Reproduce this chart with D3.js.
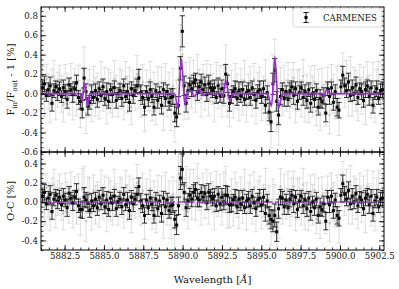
<!DOCTYPE html>
<html><head><meta charset="utf-8">
<script src="https://cdn.jsdelivr.net/npm/d3@7"></script>
<style>body{margin:0;background:#fff} svg{display:block} text{font-family:"DejaVu Serif",serif;fill:#111}</style>
</head><body><svg id="c" width="399" height="289"></svg>
<script>
const wavelength = [
5881.10,5881.22,5881.34,5881.46,5881.58,5881.70,5881.82,5881.94,5882.06,5882.18,
5882.30,5882.42,5882.54,5882.66,5882.78,5882.90,5883.02,5883.14,5883.26,5883.38,
5883.50,5883.62,5883.74,5883.86,5883.98,5884.10,5884.22,5884.34,5884.46,5884.58,
5884.70,5884.82,5884.94,5885.06,5885.18,5885.30,5885.42,5885.54,5885.66,5885.78,
5885.90,5886.02,5886.14,5886.26,5886.38,5886.50,5886.62,5886.74,5886.86,5886.98,
5887.10,5887.22,5887.34,5887.46,5887.58,5887.70,5887.82,5887.94,5888.06,5888.18,
5888.30,5888.42,5888.54,5888.66,5888.78,5888.90,5889.02,5889.14,5889.26,5889.38,
5889.50,5889.62,5889.74,5889.86,5889.98,5890.10,5890.22,5890.34,5890.46,5890.58,
5890.70,5890.82,5890.94,5891.06,5891.18,5891.30,5891.42,5891.54,5891.66,5891.78,
5891.90,5892.02,5892.14,5892.26,5892.38,5892.50,5892.62,5892.74,5892.86,5892.98,
5893.10,5893.22,5893.34,5893.46,5893.58,5893.70,5893.82,5893.94,5894.06,5894.18,
5894.30,5894.42,5894.54,5894.66,5894.78,5894.90,5895.02,5895.14,5895.26,5895.38,
5895.50,5895.62,5895.74,5895.86,5895.98,5896.10,5896.22,5896.34,5896.46,5896.58,
5896.70,5896.82,5896.94,5897.06,5897.18,5897.30,5897.42,5897.54,5897.66,5897.78,
5897.90,5898.02,5898.14,5898.26,5898.38,5898.50,5898.62,5898.74,5898.86,5898.98,
5899.10,5899.22,5899.34,5899.46,5899.58,5899.70,5899.82,5899.94,5900.06,5900.18,
5900.30,5900.42,5900.54,5900.66,5900.78,5900.90,5901.02,5901.14,5901.26,5901.38,
5901.50,5901.62,5901.74,5901.86,5901.98,5902.10,5902.22,5902.34,5902.46,5902.58,
5902.70];

// binned CARMENES transmission (black), %
const binnedFlux = [
0.06,0.10,-0.02,0.04,0.08,-0.10,0.03,0.07,0.01,0.05,
-0.03,0.06,0.02,-0.06,0.09,0.04,-0.01,0.05,0.11,-0.04,
-0.08,-0.16,0.16,0.02,-0.13,-0.09,0.01,-0.04,0.03,-0.06,
0.05,-0.02,0.07,-0.05,0.02,-0.08,0.04,-0.01,0.06,-0.07,
0.00,0.03,-0.05,0.08,-0.03,0.02,-0.09,0.05,-0.02,0.03,
0.08,0.16,0.01,-0.04,-0.14,0.02,-0.06,0.04,-0.02,-0.14,
0.03,-0.07,0.01,-0.12,0.04,-0.05,0.02,-0.09,-0.04,-0.03,
-0.20,-0.24,-0.12,0.26,0.64,0.08,-0.10,0.03,0.09,0.05,
0.11,0.14,0.02,0.07,0.12,0.04,0.09,-0.01,0.10,0.06,
0.03,0.06,-0.04,0.08,-0.02,0.05,-0.02,0.20,0.10,-0.10,
-0.03,0.02,0.05,-0.05,0.03,-0.02,0.04,-0.06,0.01,0.03,
-0.04,0.06,-0.01,-0.07,0.02,0.04,-0.03,0.05,-0.12,0.01,
-0.19,-0.29,0.10,0.24,-0.08,-0.22,-0.03,0.04,-0.05,0.02,
-0.06,0.03,0.07,-0.02,0.05,-0.08,0.01,0.06,-0.04,0.02,
-0.07,0.04,-0.10,0.00,-0.06,0.03,-0.14,-0.05,-0.08,-0.02,
-0.20,0.05,-0.03,0.06,-0.09,0.02,-0.14,-0.17,0.07,0.19,
0.08,0.03,0.12,-0.02,0.06,0.00,0.09,-0.04,0.05,0.02,
-0.07,0.04,0.08,-0.03,0.06,-0.12,0.01,0.05,-0.05,0.03,
0.04];

const binnedErr = [
.07,.08,.06,.07,.09,.08,.07,.06,.08,.07,
.06,.08,.07,.09,.07,.06,.08,.07,.08,.07,
.08,.09,.10,.08,.09,.07,.08,.06,.07,.08,
.07,.06,.08,.07,.09,.07,.06,.08,.07,.08,
.06,.07,.08,.07,.06,.08,.09,.07,.08,.06,
.07,.09,.08,.07,.08,.06,.07,.08,.07,.08,
.07,.08,.06,.09,.07,.08,.07,.08,.09,.08,
.09,.10,.09,.12,.16,.10,.09,.08,.07,.08,
.08,.07,.09,.07,.08,.06,.08,.07,.09,.07,
.07,.08,.06,.08,.07,.09,.08,.10,.09,.08,
.07,.06,.08,.07,.09,.07,.08,.06,.07,.08,
.08,.07,.06,.08,.07,.09,.07,.08,.08,.07,
.09,.10,.11,.12,.10,.10,.08,.07,.08,.06,
.07,.08,.06,.09,.07,.08,.07,.06,.08,.07,
.08,.07,.09,.06,.08,.07,.08,.09,.07,.08,
.09,.07,.08,.06,.08,.07,.09,.08,.07,.09,
.08,.07,.09,.06,.08,.07,.08,.07,.06,.08,
.07,.08,.06,.09,.07,.08,.07,.08,.06,.07,
.08];

// binned residuals O-C (black), %
const binnedResid = [
0.06,0.10,-0.02,0.04,0.08,-0.10,0.03,0.07,0.01,0.05,
-0.03,0.06,0.02,-0.06,0.09,0.04,-0.01,0.05,0.11,-0.04,
-0.08,-0.08,0.05,0.02,-0.01,-0.09,0.01,-0.04,0.03,-0.06,
0.05,-0.02,0.07,-0.05,0.02,-0.08,0.04,-0.01,0.06,-0.07,
0.00,0.03,-0.05,0.08,-0.03,0.02,-0.09,0.05,-0.02,0.03,
0.08,0.16,0.01,-0.04,-0.14,0.02,-0.06,0.04,-0.02,-0.14,
0.03,-0.07,0.01,-0.12,0.04,-0.05,0.02,-0.09,-0.04,-0.03,
-0.18,-0.24,-0.04,0.25,0.34,0.10,-0.06,0.01,0.07,0.03,
0.10,0.13,0.04,0.02,0.10,0.05,0.09,-0.01,0.10,0.06,
0.03,0.06,-0.04,0.08,-0.02,0.05,0.00,0.07,0.07,-0.03,
-0.03,0.02,0.05,-0.05,0.03,-0.02,0.04,-0.06,0.01,0.03,
-0.04,0.06,-0.01,-0.07,0.02,0.04,-0.03,0.05,-0.12,0.01,
-0.14,-0.18,-0.20,-0.14,-0.31,-0.07,0.05,0.04,-0.05,0.02,
-0.06,0.03,0.07,-0.02,0.05,-0.08,0.01,0.06,-0.04,0.02,
-0.07,0.04,-0.10,0.00,-0.06,0.03,-0.14,-0.05,-0.08,-0.02,
-0.20,0.05,-0.03,0.06,-0.09,0.02,-0.14,-0.17,0.07,0.19,
0.08,0.03,0.12,-0.02,0.06,0.00,0.09,-0.04,0.05,0.02,
-0.07,0.04,0.08,-0.03,0.06,-0.12,0.01,0.05,-0.05,0.03,
0.04];

// unbinned data (light gray), %
const rawFlux = [
0.12,-0.05,0.15,0.02,-0.10,0.08,0.18,-0.06,0.04,0.14,
0.00,-0.12,0.10,0.05,-0.04,0.16,-0.08,0.09,-0.02,0.13,
-0.15,0.05,0.25,-0.20,-0.05,0.08,-0.11,0.12,-0.03,0.06,
-0.09,0.14,-0.02,0.07,-0.13,0.10,0.01,-0.07,0.15,0.03,
-0.06,0.11,0.04,-0.10,0.17,-0.01,0.06,-0.14,0.09,0.00,
0.20,0.05,-0.08,0.12,-0.18,0.07,-0.03,0.14,-0.10,0.02,
-0.15,0.09,-0.04,0.06,-0.20,0.11,-0.07,0.03,-0.16,0.08,
-0.28,-0.10,0.15,0.45,0.40,-0.05,0.12,-0.08,0.18,0.02,
0.16,-0.03,0.20,0.08,-0.05,0.15,0.01,0.13,-0.06,0.11,
0.05,-0.09,0.14,0.00,0.10,-0.07,0.08,0.26,-0.04,-0.15,
0.07,-0.10,0.12,0.02,-0.08,0.10,-0.04,0.13,-0.12,0.05,
0.09,-0.06,0.15,-0.11,0.04,0.12,-0.09,0.01,0.14,-0.07,
-0.10,-0.32,0.15,0.30,-0.15,-0.30,0.08,-0.06,0.11,-0.02,
0.13,-0.08,0.05,0.16,-0.12,0.03,0.10,-0.05,0.18,-0.09,
0.02,-0.14,0.09,-0.03,0.12,-0.18,0.05,-0.20,0.07,-0.06,
-0.12,0.10,-0.22,0.14,0.00,-0.08,0.06,-0.24,0.12,0.22,
0.02,0.15,-0.05,0.18,-0.08,0.10,0.03,-0.10,0.14,-0.02,
0.09,-0.12,0.16,0.04,-0.06,0.11,-0.14,0.07,0.13,-0.04,
0.10];

const rawErr = [
.16,.19,.15,.18,.20,.17,.16,.21,.18,.15,
.19,.17,.20,.16,.18,.15,.19,.17,.21,.16,
.20,.22,.23,.21,.19,.17,.18,.16,.20,.15,
.17,.19,.16,.20,.18,.15,.21,.17,.19,.16,
.18,.15,.20,.17,.16,.19,.21,.18,.15,.17,
.19,.20,.16,.18,.21,.17,.15,.19,.18,.20,
.17,.19,.16,.21,.18,.20,.17,.19,.22,.18,
.22,.24,.23,.26,.25,.22,.20,.18,.19,.17,
.18,.16,.20,.17,.19,.15,.18,.21,.17,.19,
.16,.20,.18,.15,.19,.17,.21,.24,.20,.19,
.17,.15,.19,.18,.20,.16,.18,.21,.17,.15,
.19,.17,.16,.20,.18,.15,.19,.17,.21,.18,
.22,.24,.25,.26,.24,.23,.19,.17,.18,.16,
.19,.17,.20,.16,.18,.21,.15,.19,.17,.20,
.18,.16,.19,.21,.17,.15,.20,.18,.19,.16,
.21,.17,.19,.16,.20,.18,.22,.19,.17,.20,
.16,.19,.18,.20,.15,.17,.21,.18,.16,.19,
.18,.20,.17,.15,.19,.21,.16,.18,.20,.17,
.18];

const rawResid = [
0.12,-0.05,0.15,0.02,-0.10,0.08,0.18,-0.06,0.04,0.14,
0.00,-0.12,0.10,0.05,-0.04,0.16,-0.08,0.09,-0.02,0.13,
-0.15,0.13,0.14,-0.20,0.07,0.08,-0.11,0.12,-0.03,0.06,
-0.09,0.14,-0.02,0.07,-0.13,0.10,0.01,-0.07,0.15,0.03,
-0.06,0.11,0.04,-0.10,0.17,-0.01,0.06,-0.14,0.09,0.00,
0.20,0.05,-0.08,0.12,-0.18,0.07,-0.03,0.14,-0.10,0.02,
-0.15,0.09,-0.04,0.06,-0.20,0.11,-0.07,0.03,-0.16,0.08,
-0.28,-0.02,0.29,0.23,0.17,0.03,0.17,-0.10,0.15,-0.01,
0.16,-0.03,0.20,0.08,-0.05,0.15,0.01,0.13,-0.06,0.11,
0.05,-0.09,0.14,0.00,0.10,-0.07,0.10,0.13,-0.07,-0.08,
0.07,-0.10,0.12,0.02,-0.08,0.10,-0.04,0.13,-0.12,0.05,
0.09,-0.06,0.15,-0.11,0.04,0.12,-0.09,0.01,0.14,-0.07,
-0.05,-0.21,-0.01,-0.08,-0.27,-0.15,0.16,-0.06,0.11,-0.02,
0.13,-0.08,0.05,0.16,-0.12,0.03,0.10,-0.05,0.18,-0.09,
0.02,-0.14,0.09,-0.03,0.12,-0.18,0.05,-0.20,0.07,-0.06,
-0.12,0.10,-0.22,0.14,0.00,-0.08,0.06,-0.24,0.12,0.22,
0.02,0.15,-0.05,0.18,-0.08,0.10,0.03,-0.10,0.14,-0.02,
0.09,-0.12,0.16,0.04,-0.06,0.11,-0.14,0.07,0.13,-0.04,
0.10];

// best-fit model (purple)
const modelWave = [5881.0,5883.55,5883.62,5883.75,5883.95,5884.1,5889.5,5889.7,5889.92,5890.15,5890.3,5890.55,5890.75,5891.05,5891.3,5891.5,5892.4,5892.55,5892.75,5893.0,5893.2,5895.4,5895.65,5895.86,5896.1,5896.35,5898.9,5899.0,5899.15,5899.35,5902.8];
const modelFlux = [0,0,-0.08,0.12,-0.13,0,0,-0.15,0.36,-0.12,0.02,0.03,-0.03,0.05,-0.02,0,0,-0.04,0.14,-0.08,0,0,-0.13,0.38,-0.15,0,0,-0.03,0.04,0,0];
const zeroWave = [5881.0, 5902.8];
const zeroLine = [0, 0];

const xTicks = [5882.5,5885.0,5887.5,5890.0,5892.5,5895.0,5897.5,5900.0,5902.5];
const yTicksTop = [-0.6,-0.4,-0.2,0.0,0.2,0.4,0.6,0.8];
const yTicksBot = [-0.4,-0.2,0.0,0.2,0.4];
const legendLabel = "CARMENES";

const svg = d3.select("#c");
const L = 41, R = 384, T1 = 7, B1 = 152, B2 = 250;
const x = d3.scaleLinear().domain([5881.0, 5902.8]).range([L, R]);
const yTop = d3.scaleLinear().domain([-0.6, 0.89]).range([B1, T1]);
const yBot = d3.scaleLinear().domain([-0.5, 0.52]).range([B2, B1]);
const purple = "#9932CC";
const fmt = v => (Math.abs(v) < 1e-9 ? 0 : v).toFixed(1);

function panel(id, y, top, bottom, rawY, blkY, modelX, modelY, dashed) {
  const g = svg.append("g");
  g.append("clipPath").attr("id", id).append("rect")
    .attr("x", L).attr("y", top).attr("width", R - L).attr("height", bottom - top);
  const d = g.append("g").attr("clip-path", `url(#${id})`);
  // gray
  const gg = d.append("g");
  wavelength.forEach((w, i) => {
    const cx = x(w), y0 = y(rawY[i] - rawErr[i]), y1 = y(rawY[i] + rawErr[i]);
    gg.append("line").attr("x1", cx).attr("x2", cx).attr("y1", y0).attr("y2", y1)
      .attr("stroke", "#c4c4c4").attr("stroke-opacity", 0.7).attr("stroke-width", 0.8);
    [y0, y1].forEach(yy => gg.append("line").attr("x1", cx - 2.5).attr("x2", cx + 2.5)
      .attr("y1", yy).attr("y2", yy).attr("stroke", "#c4c4c4").attr("stroke-opacity", 0.7).attr("stroke-width", 0.8));
    gg.append("rect").attr("x", cx - 1.2).attr("y", y(rawY[i]) - 1.2).attr("width", 2.4).attr("height", 2.4)
      .attr("fill", "#a8a8a8").attr("fill-opacity", 0.55);
  });
  // black
  const bg = d.append("g");
  wavelength.forEach((w, i) => {
    const cx = x(w), y0 = y(blkY[i] - binnedErr[i]), y1 = y(blkY[i] + binnedErr[i]);
    bg.append("line").attr("x1", cx).attr("x2", cx).attr("y1", y0).attr("y2", y1)
      .attr("stroke", "#1a1a1a").attr("stroke-width", 0.9);
    [y0, y1].forEach(yy => bg.append("line").attr("x1", cx - 2.6).attr("x2", cx + 2.6)
      .attr("y1", yy).attr("y2", yy).attr("stroke", "#1a1a1a").attr("stroke-width", 0.9));
    bg.append("rect").attr("x", cx - 1.5).attr("y", y(blkY[i]) - 1.5).attr("width", 3).attr("height", 3)
      .attr("fill", "#000");
  });
  // model
  const line = d3.line().x((v, i) => x(modelX[i])).y(v => y(v)).curve(dashed ? d3.curveLinear : d3.curveMonotoneX);
  d.append("path").attr("d", line(modelY)).attr("fill", "none").attr("stroke", purple)
    .attr("stroke-width", 1.6).attr("stroke-dasharray", dashed ? "4,2.5" : null);

  const ax = (gen, tr, sz, vals, labels) => {
    const a = g.append("g").attr("transform", tr)
      .call(gen.tickValues(vals).tickSizeInner(sz).tickSizeOuter(0).tickPadding(3)
        .tickFormat(labels ? labels : ""));
    a.select(".domain").remove();
    a.selectAll("line").attr("stroke", "#000").attr("stroke-width", 0.8);
    a.selectAll("text").attr("font-family", "DejaVu Serif").attr("font-size", 8.6).attr("fill", "#111");
    return a;
  };
  const yT = (top === T1) ? yTicksTop : yTicksBot;
  const [d0, d1] = y.domain();
  const yMinor = d3.range(Math.ceil(d0 / 0.05) * 0.05, d1 + 1e-9, 0.05);
  const xMinor = d3.range(5881.0, 5902.8 + 1e-9, 0.5);
  ax(d3.axisLeft(y), `translate(${L},0)`, -5, yT, fmt);
  ax(d3.axisLeft(y), `translate(${L},0)`, -2.5, yMinor, null);
  ax(d3.axisRight(y), `translate(${R},0)`, -5, yT, null);
  ax(d3.axisRight(y), `translate(${R},0)`, -2.5, yMinor, null);
  ax(d3.axisTop(x), `translate(0,${top})`, -5, xTicks, null);
  ax(d3.axisTop(x), `translate(0,${top})`, -2.5, xMinor, null);
  ax(d3.axisBottom(x), `translate(0,${bottom})`, -5, xTicks, bottom === B2 ? (v => v.toFixed(1)) : null);
  ax(d3.axisBottom(x), `translate(0,${bottom})`, -2.5, xMinor, null);
  g.append("rect").attr("x", L).attr("y", top).attr("width", R - L).attr("height", bottom - top)
    .attr("fill", "none").attr("stroke", "#000").attr("stroke-width", 1);
  return g;
}

panel("cpTop", yTop, T1, B1, rawFlux, binnedFlux, modelWave, modelFlux, false);
panel("cpBot", yBot, B1, B2, rawResid, binnedResid, zeroWave, zeroLine, true);

const yl = svg.append("text").attr("transform", `translate(14,${(T1 + B1) / 2}) rotate(-90)`)
  .attr("text-anchor", "middle").attr("font-size", 10);
yl.append("tspan").text("F");
yl.append("tspan").text("in").attr("font-size", 7).attr("dy", 2.5);
yl.append("tspan").text("/F").attr("dy", -2.5);
yl.append("tspan").text("out").attr("font-size", 7).attr("dy", 2.5);
yl.append("tspan").text(" - 1 [%]").attr("dy", -2.5);

svg.append("text").attr("transform", `translate(14,${(B1 + B2) / 2}) rotate(-90)`)
  .attr("text-anchor", "middle").attr("font-size", 10).text("O-C [%]");

const xl = svg.append("text").attr("x", (L + R) / 2).attr("y", 283).attr("text-anchor", "middle").attr("font-size", 10);
xl.append("tspan").text("Wavelength [");
xl.append("tspan").text("Å").attr("font-style", "italic");
xl.append("tspan").text("]");

const lg = svg.append("g");
lg.append("rect").attr("x", 293).attr("y", 8).attr("width", 89).attr("height", 19).attr("rx", 2)
  .attr("fill", "#fff").attr("fill-opacity", 0.85).attr("stroke", "#cfcfcf").attr("stroke-width", 0.8);
const lx = 306, lyc = 17.5;
lg.append("line").attr("x1", lx).attr("x2", lx).attr("y1", lyc - 5).attr("y2", lyc + 5).attr("stroke", "#1a1a1a");
[lyc - 5, lyc + 5].forEach(yy => lg.append("line").attr("x1", lx - 2.6).attr("x2", lx + 2.6).attr("y1", yy).attr("y2", yy).attr("stroke", "#1a1a1a"));
lg.append("rect").attr("x", lx - 1.5).attr("y", lyc - 1.5).attr("width", 3).attr("height", 3).attr("fill", "#000");
lg.append("text").attr("x", 323).attr("y", 21).attr("font-size", 8.6).text(legendLabel);
</script></body></html>
